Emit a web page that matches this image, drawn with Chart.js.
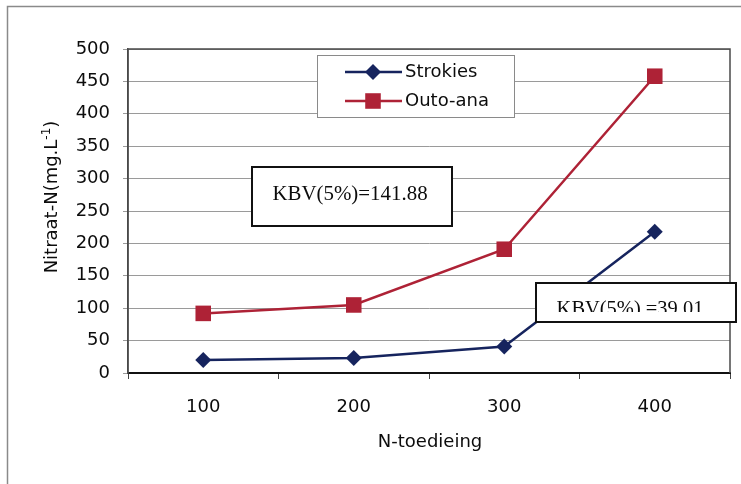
<!DOCTYPE html>
<html>
<head>
<meta charset="utf-8">
<script src="https://cdn.jsdelivr.net/npm/chart.js@4"></script>
<style>
  html, body { margin: 0; padding: 0; background: #ffffff; }
  canvas { display: block; }
</style>
</head>
<body>
<canvas id="c" width="741" height="484"></canvas>
<script>
// N application levels (categories) and measured nitrate-N per treatment
const categories = ['100', '200', '300', '400'];
const strokies = [20, 23, 41, 218];
const outoAna = [92, 105, 191, 458];
const seriesNames = ['Strokies', 'Outo-ana'];
const lsdNotes = ['KBV(5%)=141.88', 'KBV(5%) =39.01'];
const yTitle = 'Nitraat-N(mg.L';
const yTitleSup = '-1';
const xTitle = 'N-toedieing';

const SANS = '"DejaVu Sans", sans-serif';
const SERIF = '"Liberation Serif", "Times New Roman", serif';
const BLUE = '#16245e';
const RED = '#ae2236';
const INK = '#0c0c0c';

function marker(ctx, style, x, y, r, color) {
  ctx.save();
  ctx.fillStyle = color;
  ctx.beginPath();
  if (style === 'rect') {
    const s = r * Math.SQRT1_2;
    ctx.rect(x - s, y - s, 2 * s, 2 * s);
  } else {
    ctx.moveTo(x, y - r);
    ctx.lineTo(x + r, y);
    ctx.lineTo(x, y + r);
    ctx.lineTo(x - r, y);
    ctx.closePath();
  }
  ctx.fill();
  ctx.restore();
}

// white text box with a black frame; text is clipped at clipBottom
function noteBox(ctx, text, x0, y0, x1, y1, cx, baseline, clipBottom, sx) {
  ctx.save();
  ctx.fillStyle = '#ffffff';
  ctx.fillRect(x0, y0, x1 - x0, y1 - y0);
  ctx.strokeStyle = '#111';
  ctx.lineWidth = 2;
  ctx.strokeRect(x0, y0, x1 - x0, y1 - y0);
  ctx.beginPath();
  ctx.rect(x0 + 2, y0 + 2, x1 - x0 - 4, clipBottom - y0 - 2);
  ctx.clip();
  ctx.translate(cx, baseline);
  ctx.scale(sx, 1);
  ctx.font = '22px ' + SERIF;
  ctx.fillStyle = INK;
  ctx.textAlign = 'center';
  ctx.textBaseline = 'alphabetic';
  ctx.fillText(text, 0, 0);
  ctx.restore();
}

const decorations = {
  id: 'decorations',
  beforeDraw(chart) {
    const ctx = chart.ctx;
    ctx.save();
    ctx.fillStyle = '#ffffff';
    ctx.fillRect(0, 0, chart.width, chart.height);
    ctx.strokeStyle = '#8a8a8a';
    ctx.lineWidth = 1.5;
    ctx.beginPath();
    ctx.moveTo(7.5, 484);
    ctx.lineTo(7.5, 6.5);
    ctx.lineTo(741, 6.5);
    ctx.stroke();
    ctx.restore();
  },
  beforeDatasetsDraw(chart) {
    const ctx = chart.ctx;
    const a = chart.chartArea;
    ctx.save();
    ctx.strokeStyle = '#4a4a4a';
    ctx.lineWidth = 1.5;
    ctx.beginPath();
    ctx.moveTo(a.left, a.bottom);
    ctx.lineTo(a.left, a.top);
    ctx.lineTo(a.right, a.top);
    ctx.lineTo(a.right, a.bottom);
    ctx.stroke();
    ctx.restore();
  },
  afterDraw(chart) {
    const ctx = chart.ctx;

    // axis titles
    ctx.save();
    ctx.fillStyle = INK;
    ctx.font = '18px ' + SANS;
    ctx.textAlign = 'center';
    ctx.textBaseline = 'middle';
    ctx.fillText(xTitle, 430, 442);
    ctx.restore();

    ctx.save();
    ctx.translate(50, 197);
    ctx.rotate(-Math.PI / 2);
    ctx.fillStyle = INK;
    ctx.textBaseline = 'alphabetic';
    ctx.textAlign = 'left';
    ctx.font = '18px ' + SANS;
    const w1 = ctx.measureText(yTitle).width;
    const w3 = ctx.measureText(')').width;
    ctx.font = '12px ' + SANS;
    const w2 = ctx.measureText(yTitleSup).width;
    let x = -(w1 + w2 + w3) / 2;
    ctx.font = '18px ' + SANS;
    ctx.fillText(yTitle, x, 6.5);
    x += w1;
    ctx.font = '12px ' + SANS;
    ctx.fillText(yTitleSup, x, -0.5);
    x += w2;
    ctx.font = '18px ' + SANS;
    ctx.fillText(')', x, 6.5);
    ctx.restore();

    // legend
    ctx.save();
    ctx.fillStyle = '#ffffff';
    ctx.fillRect(317, 55, 197, 62);
    ctx.strokeStyle = '#8a8a8a';
    ctx.lineWidth = 1;
    ctx.strokeRect(317.5, 55.5, 197, 62);
    const rows = [
      { y: 72, color: BLUE, style: 'rectRot', r: 8 },
      { y: 101, color: RED, style: 'rect', r: 11 }
    ];
    rows.forEach((row, i) => {
      ctx.strokeStyle = row.color;
      ctx.lineWidth = 2.5;
      ctx.beginPath();
      ctx.moveTo(345, row.y);
      ctx.lineTo(402, row.y);
      ctx.stroke();
      marker(ctx, row.style, 373, row.y, row.r, row.color);
      ctx.fillStyle = INK;
      ctx.font = '18px ' + SANS;
      ctx.textAlign = 'left';
      ctx.textBaseline = 'middle';
      ctx.fillText(seriesNames[i], 405, row.y);
    });
    ctx.restore();

    // LSD notes
    noteBox(ctx, lsdNotes[0], 252, 167, 452, 226, 350, 200, 226, 0.95);
    noteBox(ctx, lsdNotes[1], 536, 283, 736, 322, 630, 315, 312, 0.93);
  }
};

new Chart(document.getElementById('c'), {
  type: 'line',
  data: {
    labels: categories,
    datasets: [
      {
        label: seriesNames[0],
        data: strokies,
        borderColor: BLUE,
        backgroundColor: BLUE,
        borderWidth: 2.5,
        pointStyle: 'rectRot',
        pointRadius: 8,
        pointBorderWidth: 0,
        tension: 0
      },
      {
        label: seriesNames[1],
        data: outoAna,
        borderColor: RED,
        backgroundColor: RED,
        borderWidth: 2.5,
        pointStyle: 'rect',
        pointRadius: 11,
        pointBorderWidth: 0,
        tension: 0
      }
    ]
  },
  options: {
    responsive: false,
    animation: false,
    events: [],
    layout: { padding: { left: 0, right: 8, top: 49, bottom: 0 } },
    plugins: {
      legend: { display: false },
      tooltip: { enabled: false },
      title: { display: false }
    },
    scales: {
      x: {
        type: 'category',
        offset: true,
        grid: {
          offset: true,
          drawOnChartArea: false,
          drawTicks: true,
          tickLength: 6,
          color: '#444',
          lineWidth: 1
        },
        border: { color: '#111', width: 2 },
        ticks: {
          color: INK,
          font: { family: SANS, size: 18 },
          padding: 18
        },
        afterFit: s => { s.height = 111; }
      },
      y: {
        min: 0,
        max: 500,
        ticks: {
          stepSize: 50,
          color: INK,
          font: { family: SANS, size: 18 },
          padding: 13
        },
        grid: {
          color: '#9a9a9a',
          lineWidth: 1,
          tickLength: 5,
          drawTicks: true
        },
        border: { color: '#4a4a4a', width: 1.5 },
        afterFit: s => { s.width = 128; }
      }
    }
  },
  plugins: [decorations]
});
</script>
</body>
</html>
